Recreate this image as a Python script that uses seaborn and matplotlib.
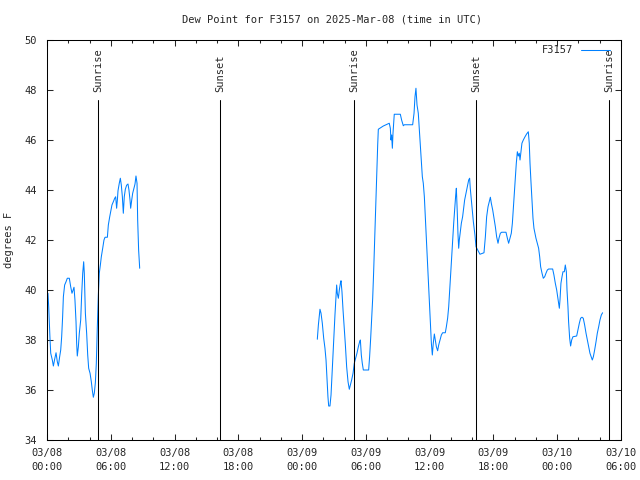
import pandas as pd
import matplotlib.pyplot as plt
import matplotlib.dates as mdates
import seaborn as sns

# --- Dados (horas desde 2025-03-08 00:00 UTC, ponto de orvalho em °F) ---
inicio = pd.Timestamp("2025-03-08 00:00")
fim = pd.Timestamp("2025-03-10 06:00")

seg1_horas = [0.09, 0.16, 0.28, 0.35, 0.50, 0.60, 0.72, 0.85, 0.97, 1.07, 1.19, 1.29, 1.38, 1.47,
              1.54, 1.66, 1.79, 1.91, 2.10, 2.23, 2.35, 2.45, 2.54, 2.63, 2.73, 2.79, 2.85, 2.95,
              3.04, 3.17, 3.26, 3.36, 3.45, 3.51, 3.61, 3.73, 3.83, 3.92, 4.05, 4.17, 4.26, 4.36,
              4.45, 4.55, 4.64, 4.73, 4.83, 4.92, 5.02, 5.11, 5.24, 5.36, 5.46, 5.68, 5.77, 5.90,
              5.99, 6.11, 6.24, 6.37, 6.46, 6.55, 6.62, 6.68, 6.80, 6.90, 6.99, 7.09, 7.18, 7.27,
              7.37, 7.49, 7.62, 7.71, 7.81, 7.87, 7.97, 8.06, 8.18, 8.28, 8.37, 8.47, 8.53, 8.62,
              8.72]
seg1_orvalho = [39.87, 39.33, 38.07, 37.47, 37.20, 36.96, 37.23, 37.49, 37.13, 36.96, 37.33, 37.60,
                38.13, 38.93, 39.73, 40.20, 40.33, 40.47, 40.47, 40.13, 39.87, 39.99, 40.11, 39.60,
                38.73, 37.87, 37.36, 37.73, 38.27, 38.80, 39.80, 40.67, 41.13, 40.67, 39.07, 38.27,
                37.40, 36.87, 36.67, 36.33, 36.00, 35.71, 35.87, 36.29, 37.07, 38.47, 39.80, 40.67,
                41.00, 41.33, 41.67, 42.00, 42.11, 42.11, 42.60, 42.93, 43.13, 43.40, 43.53, 43.67,
                43.73, 43.27, 43.60, 43.97, 44.27, 44.47, 44.20, 43.73, 43.07, 43.73, 44.03, 44.19,
                44.24, 44.00, 43.60, 43.27, 43.60, 43.87, 44.07, 44.24, 44.56, 44.27, 42.80, 41.60,
                40.87]

seg2_horas = [25.43, 25.53, 25.68, 25.78, 25.90, 26.03, 26.15, 26.25, 26.34, 26.43, 26.50, 26.62,
              26.72, 26.81, 26.91, 27.00, 27.09, 27.19, 27.25, 27.31, 27.41, 27.50, 27.59, 27.66,
              27.75, 27.85, 27.97, 28.07, 28.19, 28.32, 28.44, 28.54, 28.66, 28.79, 28.91, 29.04,
              29.16, 29.29, 29.41, 29.48, 29.57, 29.66, 29.76, 30.26, 30.35, 30.45, 30.54, 30.64,
              30.73, 30.82, 30.92, 31.01, 31.11, 31.17, 31.39, 31.64, 31.89, 32.20, 32.30, 32.36,
              32.42, 32.49, 32.55, 32.61, 32.67, 33.24, 33.36, 33.52, 33.62, 34.40, 34.53, 34.62,
              34.71, 34.81, 34.93, 35.03, 35.12, 35.21, 35.31, 35.40, 35.50, 35.59, 35.69, 35.78,
              35.87, 35.97, 36.06, 36.16, 36.25, 36.34, 36.44, 36.53, 36.63, 36.75, 36.85, 36.97,
              37.10, 37.22, 37.47, 37.57, 37.69, 37.79, 37.88, 37.98, 38.07, 38.16, 38.26, 38.35,
              38.45, 38.51, 38.60, 38.66, 38.73, 38.79, 38.88, 38.98, 39.10, 39.20, 39.29, 39.42,
              39.54, 39.67, 39.76, 39.82, 39.92, 40.01, 40.11, 40.26, 40.36, 40.73, 41.11, 41.24,
              41.36, 41.49, 41.61, 41.71, 41.80, 41.93, 42.05, 42.18, 42.30, 42.43, 42.52, 42.65,
              42.77, 43.18, 43.31, 43.43, 43.56, 43.68, 43.78, 43.87, 43.96, 44.06, 44.15, 44.25,
              44.34, 44.43, 44.50, 44.59, 44.68, 44.81, 44.97, 45.12, 45.28, 45.37, 45.44, 45.53,
              45.63, 45.72, 45.81, 45.91, 46.00, 46.13, 46.25, 46.35, 46.44, 46.57, 46.69, 46.82,
              46.94, 47.07, 47.19, 47.57, 47.69, 47.82, 47.95, 48.04, 48.13, 48.20, 48.26, 48.35,
              48.45, 48.54, 48.67, 48.76, 48.86, 48.92, 49.01, 49.07, 49.17, 49.26, 49.36, 49.48,
              49.83, 49.95, 50.08, 50.20, 50.33, 50.45, 50.58, 50.71, 50.83, 50.96, 51.08, 51.21,
              51.30, 51.40, 51.52, 51.65, 51.77, 51.90, 52.02, 52.15, 52.27]
seg2_orvalho = [38.03, 38.60, 39.23, 39.07, 38.67, 38.07, 37.67, 37.20, 36.47, 35.73, 35.36, 35.36,
                35.80, 36.60, 37.40, 38.20, 39.00, 39.80, 40.20, 39.87, 39.67, 40.00, 40.24, 40.37,
                39.93, 39.20, 38.47, 37.80, 36.93, 36.33, 36.03, 36.20, 36.40, 36.67, 37.07, 37.27,
                37.47, 37.73, 37.93, 38.00, 37.40, 37.07, 36.80, 36.80, 37.33, 38.07, 38.87, 39.67,
                40.73, 41.93, 43.27, 44.53, 45.80, 46.43, 46.49, 46.56, 46.61, 46.67, 46.47, 46.00,
                46.20, 45.67, 46.27, 46.67, 47.03, 47.03, 46.80, 46.57, 46.61, 46.61, 47.07, 47.73,
                48.07, 47.40, 47.07, 46.40, 45.73, 45.13, 44.53, 44.27, 43.73, 42.93, 42.13, 41.20,
                40.40, 39.53, 38.67, 37.87, 37.40, 37.87, 38.24, 38.00, 37.73, 37.57, 37.80, 38.00,
                38.20, 38.29, 38.29, 38.53, 38.87, 39.33, 40.00, 40.67, 41.33, 42.00, 42.67, 43.20,
                43.80, 44.07, 43.07, 42.27, 41.67, 42.00, 42.33, 42.67, 42.93, 43.27, 43.60, 43.87,
                44.13, 44.40, 44.47, 44.07, 43.60, 43.13, 42.73, 42.20, 41.73, 41.43, 41.49, 42.13,
                42.93, 43.33, 43.53, 43.71, 43.47, 43.20, 42.87, 42.53, 42.13, 41.87, 42.07, 42.27,
                42.31, 42.31, 42.07, 41.87, 42.07, 42.27, 42.67, 43.27, 43.93, 44.53, 45.07, 45.53,
                45.36, 45.47, 45.20, 45.53, 45.87, 46.00, 46.13, 46.24, 46.33, 45.87, 45.07, 44.33,
                43.60, 42.87, 42.47, 42.27, 42.07, 41.87, 41.67, 41.33, 40.93, 40.67, 40.47, 40.53,
                40.67, 40.80, 40.84, 40.84, 40.60, 40.27, 40.00, 39.73, 39.49, 39.27, 39.60, 40.27,
                40.53, 40.73, 40.73, 41.00, 40.73, 40.00, 39.33, 38.73, 38.07, 37.76, 38.00, 38.13,
                38.16, 38.40, 38.67, 38.87, 38.91, 38.87, 38.60, 38.27, 38.00, 37.73, 37.47, 37.31,
                37.20, 37.33, 37.60, 37.93, 38.27, 38.53, 38.80, 39.00, 39.09]

eventos_sol = ["Sunrise", "Sunset", "Sunrise", "Sunset", "Sunrise"]
horarios_sol = ["2025-03-08 04:49", "2025-03-08 16:18", "2025-03-09 04:53",
                "2025-03-09 16:22", "2025-03-10 04:53"]

df1 = pd.DataFrame({"tempo": inicio + pd.to_timedelta(seg1_horas, unit="h"), "orvalho": seg1_orvalho})
df2 = pd.DataFrame({"tempo": inicio + pd.to_timedelta(seg2_horas, unit="h"), "orvalho": seg2_orvalho})

# --- Configurações globais ---
sns.set_style("ticks")
plt.rcParams['font.family'] = 'DejaVu Sans Mono'
plt.rcParams['font.size'] = 7.5
plt.rcParams['xtick.direction'] = 'in'
plt.rcParams['ytick.direction'] = 'in'
plt.rcParams['axes.edgecolor'] = 'black'
plt.rcParams['axes.linewidth'] = 0.75

fig = plt.figure(figsize=(6.4, 4.8), dpi=100)
ax = fig.add_axes([47 / 640, 40 / 480, 574 / 640, 400 / 480])

cor = '#0080ff'
sns.lineplot(data=df1, x="tempo", y="orvalho", ax=ax, color=cor, linewidth=0.75, label="F3157")
sns.lineplot(data=df2, x="tempo", y="orvalho", ax=ax, color=cor, linewidth=0.75, label="_nolegend_")

# Linhas de nascer/pôr do sol
for nome, hora in zip(eventos_sol, horarios_sol):
    t = pd.Timestamp(hora)
    ax.axvline(t, ymin=0, ymax=(47.6 - 34) / 16, color='black', linewidth=0.75)
    ax.text(t, 47.92, nome, rotation=90, ha='center', va='bottom', fontsize=7.5)

ax.set_xlim(inicio, fim)
ax.set_ylim(34, 50)
ax.set_yticks(range(34, 51, 2))
ax.xaxis.set_major_locator(mdates.HourLocator(byhour=[0, 6, 12, 18]))
ax.xaxis.set_minor_locator(mdates.HourLocator(byhour=range(0, 24, 2)))
ax.xaxis.set_major_formatter(mdates.DateFormatter('%m/%d\n%H:%M'))
ax.tick_params(axis='both', which='major', length=4, width=0.75, top=True, right=True, labelsize=7.5)
ax.tick_params(axis='x', which='major', pad=6)
ax.tick_params(axis='y', which='major', pad=7)
ax.tick_params(axis='x', which='minor', length=2.5, width=0.75, top=True)
for lab in ax.get_xticklabels():
    lab.set_linespacing(1.45)

ax.set_xlabel('')
ax.set_ylabel('degrees F', fontsize=7.5)
ax.yaxis.set_label_coords(-0.058, 0.5)

fig.text(332 / 640, 1 - 19 / 480, 'Dew Point for F3157 on 2025-Mar-08 (time in UTC)',
         ha='center', va='center', fontsize=7.5)

ax.legend(loc='upper right', bbox_to_anchor=(0.988, 0.997), frameon=False, markerfirst=False,
          handlelength=2.8, handletextpad=0.7, borderaxespad=0.0, fontsize=7.5)

plt.savefig('out.png', dpi=100)
plt.close()
